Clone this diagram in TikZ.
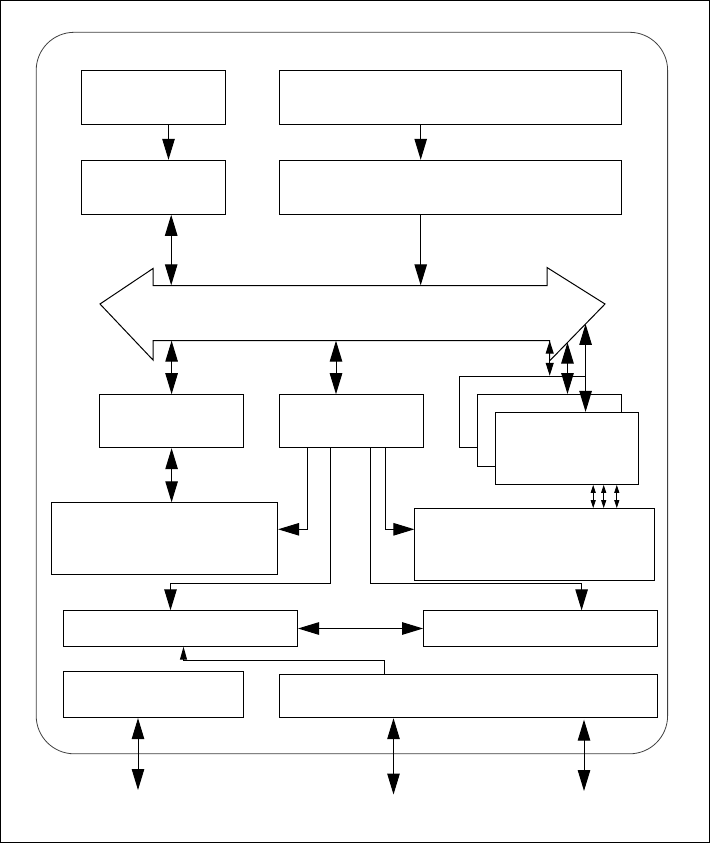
\documentclass[tikz,border=0pt]{standalone}
\usetikzlibrary{arrows.meta,calc}

\tikzset{
  box/.style={draw, line width=1pt, fill=white, inner sep=0pt},
  link/.style={line width=1pt},
  big/.style={link, -{Triangle[length=21pt,width=12.5pt]}},
  bigboth/.style={link, {Triangle[length=21pt,width=12.5pt]}-{Triangle[length=21pt,width=12.5pt]}},
  smallboth/.style={link, {Triangle[length=13pt,width=8pt]}-{Triangle[length=13pt,width=8pt]}},
  tinyboth/.style={line width=0.8pt, {Triangle[length=8pt,width=5pt]}-{Triangle[length=8pt,width=5pt]}},
  small/.style={link, -{Triangle[length=13pt,width=7pt]}},
}

\begin{document}
\begin{tikzpicture}[x=1pt,y=-1pt]
    \useasboundingbox (0,0) rectangle (710,843);
    \draw[line width=1pt] (0.5,0.5) rectangle (709.5,842.5);

    % 外框
    \draw[black!75, line width=0.8pt, rounded corners=38] (36.2,32.3) rectangle (667.6,753.8);

    % 定义方框
    \node[box, minimum width=144, minimum height=54] (a1) at (153.5,97.5) {};
    \node[box, minimum width=342, minimum height=54] (b1) at (450.4,97.5) {};
    \node[box, minimum width=144, minimum height=54] (a2) at (153.5,187.3) {};
    \node[box, minimum width=342, minimum height=54] (b2) at (450.4,187.3) {};

    \node[box, minimum width=144, minimum height=53] (c1) at (171.6,421.2) {};
    \node[box, minimum width=144, minimum height=53] (c2) at (351.4,421.2) {};
    \node[box, minimum width=125.9, minimum height=71.5] (s1) at (522.65,412) {};
    \node[box, minimum width=144, minimum height=71.5] (s2) at (549.4,430.3) {};
    \node[box, minimum width=143.5, minimum height=72] (s3) at (567.2,448.4) {};

    \node[box, minimum width=226, minimum height=71.5] (d1) at (164.6,538.5) {};
    \node[box, minimum width=240, minimum height=72] (d2) at (534.9,544.6) {};
    \node[box, minimum width=234, minimum height=35.4] (e1) at (180.5,628.5) {};
    \node[box, minimum width=234, minimum height=35.4] (e2) at (540.6,628.5) {};
    \node[box, minimum width=180, minimum height=46] (f1) at (153.6,694.6) {};
    \node[box, minimum width=378, minimum height=43] (f2) at (468.5,696.2) {};

    % 总线
    \draw[link] (100,304) -- (153,268.5) -- (153,285.5) -- (547,285.5) -- (547,267.5)
        -- (605,304) -- (549.5,361) -- (549.5,340.5) -- (153,340.5) -- (153,360) -- cycle;
    \node[inner sep=0pt, minimum width=396.5, minimum height=55] (bus) at (351.25,313) {};
    \coordinate (hr) at (605,304);
    \coordinate (hb) at (549.5,361);
    \path ($(hr)!0.676!(hb)$) coordinate (h2) ($(hr)!0.35!(hb)$) coordinate (h3);

    % 连线
    \draw[big] ([xshift=15]a1.south) -- ([xshift=15]a2.north);
    \draw[big] ([xshift=-29.7]b1.south) -- ([xshift=-29.7]b2.north);
    \draw[bigboth] ([xshift=17.7]a2.south) -- ([xshift=17.7]a2.south |- bus.north);
    \draw[big] ([xshift=-29.7]b2.south) -- ([xshift=-29.7]b2.south |- bus.north);

    \draw[bigboth] (c1.north |- bus.south) -- (c1.north);
    \draw[bigboth] ([xshift=-15.4]c2.north |- bus.south) -- ([xshift=-15.4]c2.north);
    \draw[smallboth] (bus.south east) -- (bus.south east |- s1.north);
    \draw[bigboth] (h2) -- (h2 |- s2.north);
    \draw[bigboth] (h3) -- (h3 |- s3.north);

    \draw[bigboth] (c1.south) -- (c1.south |- d1.north);
    \draw[big] ([xshift=-44]c2.south) |- ([yshift=9.2]d1.east);
    \draw[big] ([xshift=-21]c2.south) |- ([xshift=-10,yshift=27]e1.north) -- ([xshift=-10]e1.north);
    \draw[big] ([xshift=19]c2.south) |- ([xshift=41,yshift=27]e2.north) -- ([xshift=41]e2.north);
    \draw[big] ([xshift=34]c2.south) |- ([yshift=15.3]d2.west);

    \foreach \dx in {26,36.5,49.6}
        \draw[tinyboth] ([xshift=\dx]s3.south) -- ([xshift=\dx]s3.south |- d2.north);

    \draw[bigboth] (e1.east) -- (e2.west);
    \draw[small] ([xshift=-84]f2.north) -- ++(0,-13.4) -| ([xshift=3]e1.south);

    % 对外接口
    \coordinate (o1) at (138,790);
    \coordinate (o2) at (393.5,794.5);
    \coordinate (o3) at (584,791);
    \draw[bigboth] (o1 |- f1.south) -- (o1);
    \draw[bigboth] (o2 |- f2.south) -- (o2);
    \draw[bigboth] ([yshift=-1.5]o3 |- f2.south) -- (o3);

\end{tikzpicture}
\end{document}
